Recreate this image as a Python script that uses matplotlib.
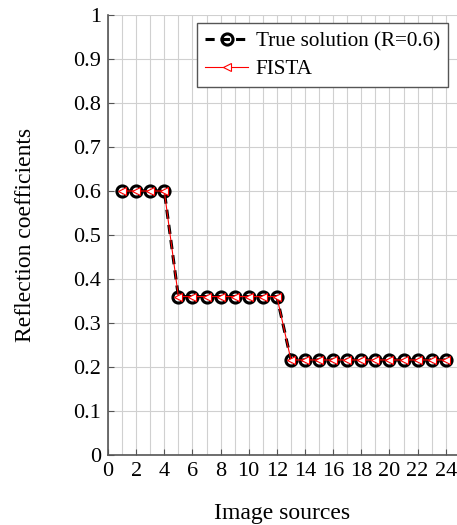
import matplotlib
matplotlib.use('Agg')
import matplotlib.pyplot as plt
import numpy as np

# image source index and reflection coefficients
sources = list(range(1, 25))
true_vals = [0.6] * 4 + [0.36] * 8 + [0.216] * 12
fista_vals = [0.6] * 4 + [0.36] * 8 + [0.216] * 12

plt.rcParams['font.family'] = 'Liberation Serif'

fig = plt.figure(figsize=(4.57, 5.25), dpi=100)
ax = fig.add_axes([108 / 457, 1 - 455 / 525, 1 - 108 / 457, (455 - 15) / 525])

ax.plot(sources, true_vals, color='black', linestyle=(0, (3, 2)), linewidth=2.2,
        marker='o', markersize=8, markerfacecolor='none', markeredgewidth=2.2,
        label='True solution (R=0.6)', zorder=3)
ax.plot(sources, fista_vals, color='red', linewidth=0.8,
        marker='<', markersize=6, markerfacecolor='white', markeredgewidth=0.8,
        label='FISTA', zorder=4)

ax.set_xlim(0, 24.8)
ax.set_ylim(0, 1)
ax.set_xticks(range(0, 25, 2))
ax.set_xticks(range(0, 25), minor=True)
ax.set_yticks(np.arange(0, 1.01, 0.1))
ax.set_yticklabels(['0', '0.1', '0.2', '0.3', '0.4', '0.5', '0.6', '0.7', '0.8', '0.9', '1'])
ax.grid(True, which='both', color='#d0d0d0', linewidth=0.8)
ax.set_axisbelow(True)
ax.tick_params(which='both', direction='in', labelsize=16, color='#555555', pad=5)
ax.tick_params(which='minor', length=0)
ax.tick_params(which='major', length=4)
for s in ['top', 'right']:
    ax.spines[s].set_visible(False)
for s in ['left', 'bottom']:
    ax.spines[s].set_color('#555555')
    ax.spines[s].set_linewidth(1.2)

ax.set_xlabel('Image sources', fontsize=17, labelpad=16)
ax.set_ylabel('Reflection coefficients', fontsize=17, labelpad=27)

leg = ax.legend(loc='upper right', fontsize=15.2, fancybox=False, framealpha=1,
                edgecolor='#555555', handlelength=2.05, borderpad=0.4,
                labelspacing=0.38, handletextpad=0.35, borderaxespad=0,
                bbox_to_anchor=(0.975, 0.982))
leg.get_frame().set_linewidth(1.0)

fig.savefig('out.png', dpi=100)
